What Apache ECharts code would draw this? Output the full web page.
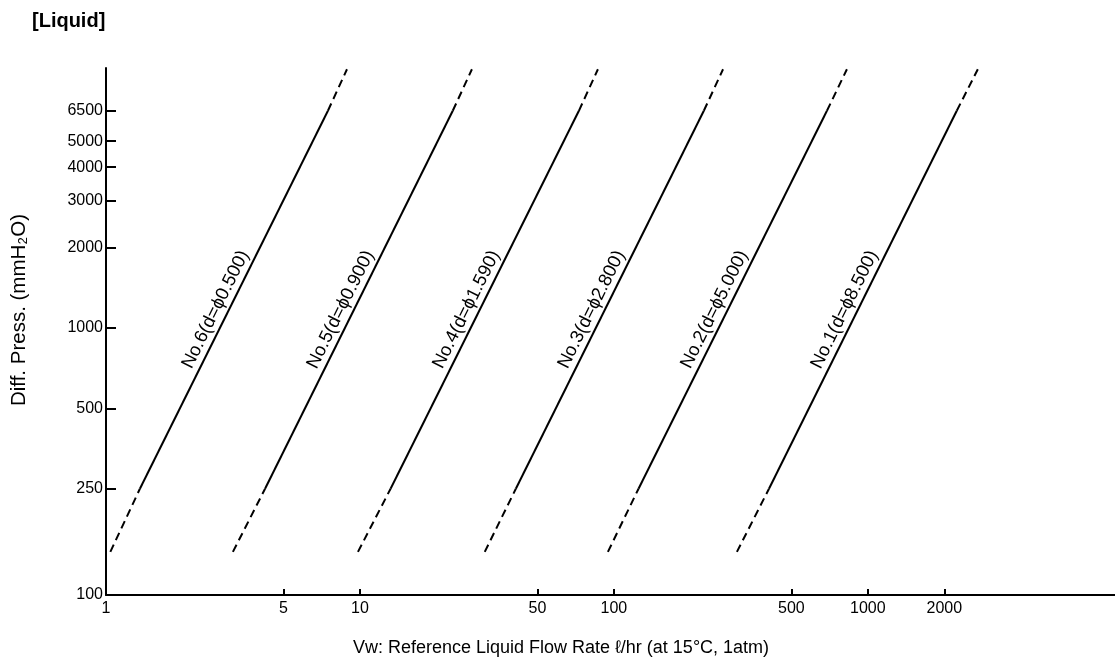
<!DOCTYPE html>
<html><head><meta charset="utf-8">
<script src="https://cdn.jsdelivr.net/npm/echarts@6/dist/echarts.min.js"></script>
<style>html,body{margin:0;padding:0;background:#fff}#c{width:1115px;height:667px}</style>
</head><body><div id="c"></div>
<script>
// Line names (orifice No. and diameter)
const lineNames = ['No.1(d=ϕ8.500)', 'No.2(d=ϕ5.000)', 'No.3(d=ϕ2.800)', 'No.4(d=ϕ1.590)', 'No.5(d=ϕ0.900)', 'No.6(d=ϕ0.500)'];
// Diff. pressure (mmH2O) at: dashed start, solid start, solid end, dashed end
const pBreaks = [145, 250, 6500, 9300];
// Flow rate (l/hr) of each line at those pressures
const qNo1 = [305, 408, 2239, 2710];
const qNo2 = [94.7, 125, 690, 827];
const qNo3 = [31.0, 41.1, 226, 269];
const qNo4 = [9.82, 13.2, 72.8, 86.5];
const qNo5 = [3.16, 4.23, 23.2, 27.6];
const qNo6 = [1.04, 1.36, 7.48, 8.89];
const xTicks = [1, 5, 10, 50, 100, 500, 1000, 2000];
const yTicks = [100, 250, 500, 1000, 2000, 3000, 4000, 5000, 6500];

const allQ = [qNo1, qNo2, qNo3, qNo4, qNo5, qNo6];
const FONT = '"Liberation Sans", Arial, sans-serif';
const chart = echarts.init(document.getElementById('c'), null, {renderer: 'canvas'});

const series = [];
allQ.forEach((q, i) => {
  const pts = q.map((v, k) => [v, pBreaks[k]]);
  const base = {type: 'line', showSymbol: false, symbol: 'none', silent: true, animation: false};
  series.push(Object.assign({}, base, {name: lineNames[i] + ' low', data: [pts[0], pts[1]], lineStyle: {color: '#000', width: 2, type: [8, 5]}}));
  series.push(Object.assign({}, base, {name: lineNames[i], data: [pts[1], pts[2]], lineStyle: {color: '#000', width: 2}}));
  series.push(Object.assign({}, base, {name: lineNames[i] + ' high', data: [pts[2], pts[3]], lineStyle: {color: '#000', width: 2, type: [8, 5]}}));
});

const fmt = v => String(Math.round(v));

chart.setOption({
  backgroundColor: '#fff',
  animation: false,
  grid: {left: 106, right: 0, top: 68, bottom: 72, containLabel: false, outerBoundsMode: 'none'},
  xAxis: {
    type: 'log', logBase: 10, min: 1, max: 9400,
    axisLine: {lineStyle: {color: '#000', width: 2}},
    axisTick: {show: true, inside: true, length: 6, customValues: xTicks, lineStyle: {color: '#000', width: 2}},
    minorTick: {show: false},
    axisLabel: {customValues: xTicks, formatter: fmt, color: '#000', fontSize: 16, margin: 6, fontFamily: FONT},
    splitLine: {show: false}
  },
  yAxis: {
    type: 'log', logBase: 10, min: 100, max: 9400,
    axisLine: {lineStyle: {color: '#000', width: 2}},
    axisTick: {show: true, inside: true, length: 10, customValues: yTicks, lineStyle: {color: '#000', width: 2}},
    minorTick: {show: false},
    axisLabel: {customValues: yTicks, formatter: fmt, color: '#000', fontSize: 16, margin: 3, fontFamily: FONT},
    splitLine: {show: false}
  },
  series: series
});

// Labels along each line's solid part
const graphics = [
  {type: 'text', left: 32, top: 11, style: {text: '[Liquid]', font: 'bold 20px ' + FONT, fill: '#000'}},
  {type: 'text', x: 19, y: 310, rotation: Math.PI / 2, style: {text: 'Diff. Press. (mmH₂O)', font: '20.5px ' + FONT, fill: '#000', align: 'center', verticalAlign: 'middle'}},
  {type: 'text', x: 561, y: 648, style: {text: 'Vw: Reference Liquid Flow Rate ℓ/hr (at 15°C, 1atm)', font: '18px ' + FONT, fill: '#000', align: 'center', verticalAlign: 'middle'}}
];
allQ.forEach((q, i) => {
  const a = chart.convertToPixel({xAxisIndex: 0, yAxisIndex: 0}, [q[1], pBreaks[1]]);
  const b = chart.convertToPixel({xAxisIndex: 0, yAxisIndex: 0}, [q[2], pBreaks[2]]);
  const t = 0.46;
  const mx = a[0] + t * (b[0] - a[0]);
  const my = a[1] + t * (b[1] - a[1]);
  const dx = b[0] - a[0], dy = b[1] - a[1];
  const len = Math.hypot(dx, dy);
  const ux = dx / len, uy = dy / len;
  const off = 12;
  graphics.push({
    type: 'text', x: mx + uy * off, y: my - ux * off,
    rotation: Math.atan2(-dy, dx),
    style: {text: lineNames[i], font: '18.5px ' + FONT, fill: '#000', align: 'center', verticalAlign: 'middle'}
  });
});
chart.setOption({graphic: graphics});
</script>
</body></html>
